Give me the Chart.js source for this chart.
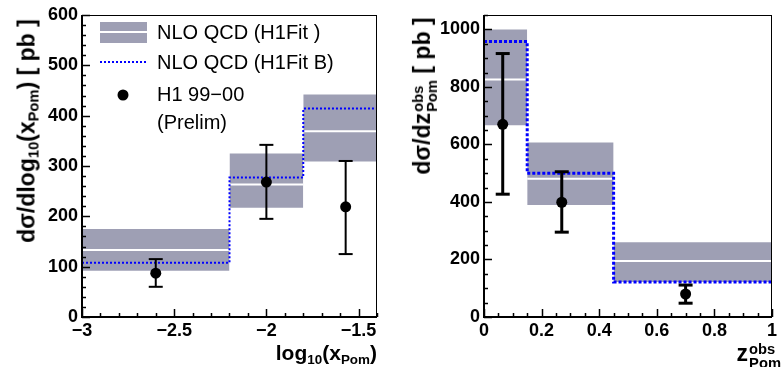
<!DOCTYPE html>
<html><head><meta charset="utf-8">
<script src="https://cdn.jsdelivr.net/npm/chart.js@4/dist/chart.umd.min.js"></script>
<style>
html,body{margin:0;padding:0;background:#fff;}
#wrap{position:relative;width:782px;height:367px;overflow:hidden;font-family:"Liberation Sans",Arial,sans-serif;}
canvas{position:absolute;top:0;}
.t{position:absolute;font-weight:bold;white-space:nowrap;color:#000;line-height:1;}
.rot{transform:translate(-50%,-50%) rotate(-90deg);}
.xr{transform:translate(-100%,-50%);}
.stk{display:inline-block;vertical-align:-0.45em;font-size:0.64em;line-height:0.92;text-align:left;margin-left:1px;}
.stk span{display:block;}
sub{font-size:0.64em;vertical-align:-0.3em;line-height:0;}
</style></head>
<body>
<div id="wrap">
<canvas id="c1" width="391" height="367" style="left:0"></canvas>
<canvas id="c2" width="391" height="367" style="left:391px"></canvas>
<div class="t rot" style="left:27px;top:131px;font-size:23px">dσ/dlog<sub>10</sub>(x<sub>Pom</sub>) [ pb ]</div>
<div class="t xr" style="left:377px;top:352px;font-size:21px">log<sub>10</sub>(x<sub>Pom</sub>)</div>
<div class="t rot" style="left:425px;top:96px;font-size:23px">dσ/dz<span class="stk"><span>obs</span><span>Pom</span></span> [ pb ]</div>
<div class="t xr" style="left:781px;top:356px;font-size:23px">z<span class="stk"><span>obs</span><span>Pom</span></span></div>
</div>
<script>
// ---------- Left panel: d(sigma)/d log10(x_Pom) ----------
const xpomEdges   = [-3, -2.2, -1.8, -1.4];
const xpomBandHi  = [175, 325, 442];
const xpomBandLo  = [92, 217, 309];
const xpomH1Fit   = [133, 263, 369];
const xpomH1FitB  = [108, 277, 414];
const xpomDataX   = [-2.6, -2.0, -1.57];
const xpomDataY   = [87, 268, 219];
const xpomErrHi   = [115, 342, 310];
const xpomErrLo   = [60, 195, 125];
const xpomXTicks  = [-3, -2.5, -2, -1.5];
const xpomXLabels = ['\u22123', '\u22122.5', '\u22122', '\u22121.5'];
const xpomYTicks  = [0, 100, 200, 300, 400, 500, 600];
const xpomYLabels = ['0', '100', '200', '300', '400', '500', '600'];

// ---------- Right panel: d(sigma)/d z_Pom^obs ----------
const zpomEdges   = [0, 0.15, 0.45, 1.0];
const zpomBandHi  = [1000, 607, 260];
const zpomBandLo  = [667, 389, 122];
const zpomH1Fit   = [826, 481, 195];
const zpomH1FitB  = [958, 500, 122];
const zpomDataX   = [0.065, 0.27, 0.70];
const zpomDataY   = [670, 399, 80];
const zpomErrHi   = [916, 505, 111];
const zpomErrLo   = [427, 295, 48];
const zpomXTicks  = [0, 0.2, 0.4, 0.6, 0.8, 1];
const zpomXLabels = ['0', '0.2', '0.4', '0.6', '0.8', '1'];
const zpomYTicks  = [0, 200, 400, 600, 800, 1000];
const zpomYLabels = ['0', '200', '400', '600', '800', '1000'];

// legend texts
const legendLabels = ['NLO QCD (H1Fit )', 'NLO QCD (H1Fit B)', 'H1 99\u221200', '(Prelim)'];

const BAND = '#9e9fb4';
const BLUE = '#0000ff';
const FONT = '"Liberation Sans", Arial, sans-serif';

const frameTicks = {
  id: 'frameTicks',
  afterDatasetsDraw(chart, args, o) {
    const {ctx, chartArea: a, scales: {x, y}} = chart;
    ctx.save();
    ctx.strokeStyle = '#000';
    ctx.lineWidth = 1;
    ctx.strokeRect(a.left + 0.5, a.top + 0.5, a.right - a.left - 1, a.bottom - a.top - 1);
    ctx.lineWidth = 2;
    ctx.beginPath();
    ctx.moveTo(a.left, a.top); ctx.lineTo(a.left, a.bottom); ctx.lineTo(a.right, a.bottom);
    ctx.stroke();
    ctx.lineWidth = 1.5;
    const loop = (min, max, step, major, cb) => {
      for (let k = Math.ceil(min / step - 1e-6); k * step <= max + 1e-6; k++) {
        const v = k * step;
        const r = v / major;
        cb(v, Math.abs(r - Math.round(r)) < 1e-6 ? 8 : 4);
      }
    };
    ctx.beginPath();
    loop(y.min, y.max, o.yMinor, o.yMajor, (v, L) => {
      const p = Math.round(y.getPixelForValue(v)) + 0.5;
      ctx.moveTo(a.left, p); ctx.lineTo(a.left + L, p);
    });
    loop(x.min, x.max, o.xMinor, o.xMajor, (v, L) => {
      const p = Math.round(x.getPixelForValue(v)) + 0.5;
      ctx.moveTo(p, a.bottom); ctx.lineTo(p, a.bottom - L);
    });
    ctx.stroke();
    ctx.restore();
  }
};

const legendPlugin = {
  id: 'h1legend',
  afterDatasetsDraw(chart, args, o) {
    if (!o.show) return;
    const ctx = chart.ctx;
    ctx.save();
    ctx.fillStyle = BAND;
    ctx.fillRect(100, 22, 47, 21);
    ctx.strokeStyle = '#fff'; ctx.lineWidth = 2;
    ctx.beginPath(); ctx.moveTo(100, 32); ctx.lineTo(147, 32); ctx.stroke();
    ctx.strokeStyle = BLUE; ctx.lineWidth = 2; ctx.setLineDash([2, 2]);
    ctx.beginPath(); ctx.moveTo(100, 62); ctx.lineTo(147, 62); ctx.stroke();
    ctx.setLineDash([]);
    ctx.fillStyle = '#000';
    ctx.beginPath(); ctx.arc(123, 95, 5.5, 0, Math.PI * 2); ctx.fill();
    ctx.font = '20px ' + FONT;
    ctx.textBaseline = 'middle';
    ctx.textAlign = 'left';
    const ys = [33, 63, 95, 123];
    legendLabels.forEach((t, i) => ctx.fillText(t, 157, ys[i]));
    ctx.restore();
  }
};

function buildDatasets(c) {
  const ds = [];
  for (let i = 0; i < c.hi.length; i++) {
    const lowIdx = ds.length + 1;
    ds.push({data: [{x: c.edges[i], y: c.hi[i]}, {x: c.edges[i + 1], y: c.hi[i]}],
      borderWidth: 0, borderColor: 'rgba(0,0,0,0)', pointRadius: 0,
      fill: lowIdx, backgroundColor: BAND, order: 5});
    ds.push({data: [{x: c.edges[i], y: c.lo[i]}, {x: c.edges[i + 1], y: c.lo[i]}],
      borderWidth: 0, borderColor: 'rgba(0,0,0,0)', pointRadius: 0, fill: false, order: 5});
    ds.push({data: [{x: c.edges[i], y: c.mid[i]}, {x: c.edges[i + 1], y: c.mid[i]}],
      borderWidth: 2, borderColor: '#ffffff', pointRadius: 0, fill: false, order: 4});
  }
  const step = c.edges.map((e, i) => ({x: e, y: c.fitB[Math.min(i, c.fitB.length - 1)]}));
  ds.push({data: step, stepped: 'before', borderColor: BLUE, borderWidth: c.dotW,
    borderDash: c.dash, borderCapStyle: 'butt', pointRadius: 0, fill: false, order: 3});
  for (let i = 0; i < c.px.length; i++) {
    ds.push({data: [{x: c.px[i], y: c.eLo[i]}, {x: c.px[i], y: c.eHi[i]}],
      borderColor: '#000', borderWidth: c.errW, pointStyle: 'line', pointRadius: 7,
      pointBorderWidth: c.errW, pointBorderColor: '#000', fill: false, order: 2});
  }
  ds.push({data: c.px.map((x, i) => ({x, y: c.py[i]})), showLine: false,
    pointStyle: 'circle', pointRadius: 5.5, pointBackgroundColor: '#000',
    pointBorderColor: '#000', pointBorderWidth: 0, order: 1});
  return ds;
}

function makeChart(id, c) {
  return new Chart(document.getElementById(id), {
    type: 'line',
    data: {datasets: buildDatasets(c)},
    plugins: [frameTicks, legendPlugin],
    options: {
      responsive: false, animation: false, maintainAspectRatio: false,
      layout: {padding: {left: 0, top: c.top, right: c.right, bottom: 0}},
      plugins: {legend: {display: false}, tooltip: {enabled: false},
        frameTicks: c.ticks, h1legend: {show: c.legend}},
      scales: {
        x: {type: 'linear', min: c.xmin, max: c.xmax,
          grid: {display: false, drawTicks: false}, border: {display: false},
          afterBuildTicks: s => { s.ticks = c.xTicks.map(v => ({value: v})); },
          afterFit: s => { s.height = 50; s.paddingLeft = 0; s.paddingRight = 0; },
          ticks: {padding: 3, color: '#000', maxRotation: 0, autoSkip: false,
            font: {family: FONT, size: 18, weight: 'bold'},
            callback: v => { const i = c.xTicks.findIndex(t => Math.abs(t - v) < 1e-6); return i >= 0 ? c.xLabels[i] : ''; }}},
        y: {type: 'linear', min: 0, max: c.ymax,
          grid: {display: false, drawTicks: false}, border: {display: false},
          afterBuildTicks: s => { s.ticks = c.yTicks.map(v => ({value: v})); },
          afterFit: s => { s.width = c.left; s.paddingTop = 0; s.paddingBottom = 0; },
          ticks: {padding: 4, color: '#000', autoSkip: false,
            font: {family: FONT, size: 18, weight: 'bold'},
            callback: v => { const i = c.yTicks.findIndex(t => Math.abs(t - v) < 1e-6); return i >= 0 ? c.yLabels[i] : ''; }}}
      }
    }
  });
}

makeChart('c1', {
  edges: xpomEdges, hi: xpomBandHi, lo: xpomBandLo, mid: xpomH1Fit, fitB: xpomH1FitB,
  px: xpomDataX, py: xpomDataY, eHi: xpomErrHi, eLo: xpomErrLo,
  xTicks: xpomXTicks, xLabels: xpomXLabels, yTicks: xpomYTicks, yLabels: xpomYLabels,
  xmin: -3, xmax: -1.4, ymax: 600, left: 82, top: 15, right: 14,
  dotW: 2, dash: [2, 2], errW: 2, legend: true,
  ticks: {xMajor: 0.5, xMinor: 0.1, yMajor: 100, yMinor: 20}
});
makeChart('c2', {
  edges: zpomEdges, hi: zpomBandHi, lo: zpomBandLo, mid: zpomH1Fit, fitB: zpomH1FitB,
  px: zpomDataX, py: zpomDataY, eHi: zpomErrHi, eLo: zpomErrLo,
  xTicks: zpomXTicks, xLabels: zpomXLabels, yTicks: zpomYTicks, yLabels: zpomYLabels,
  xmin: 0, xmax: 1, ymax: 1050, left: 93, top: 15, right: 2,
  dotW: 3, dash: [3, 2], errW: 3, legend: false,
  ticks: {xMajor: 0.2, xMinor: 0.05, yMajor: 200, yMinor: 50}
});
</script>
</body></html>
